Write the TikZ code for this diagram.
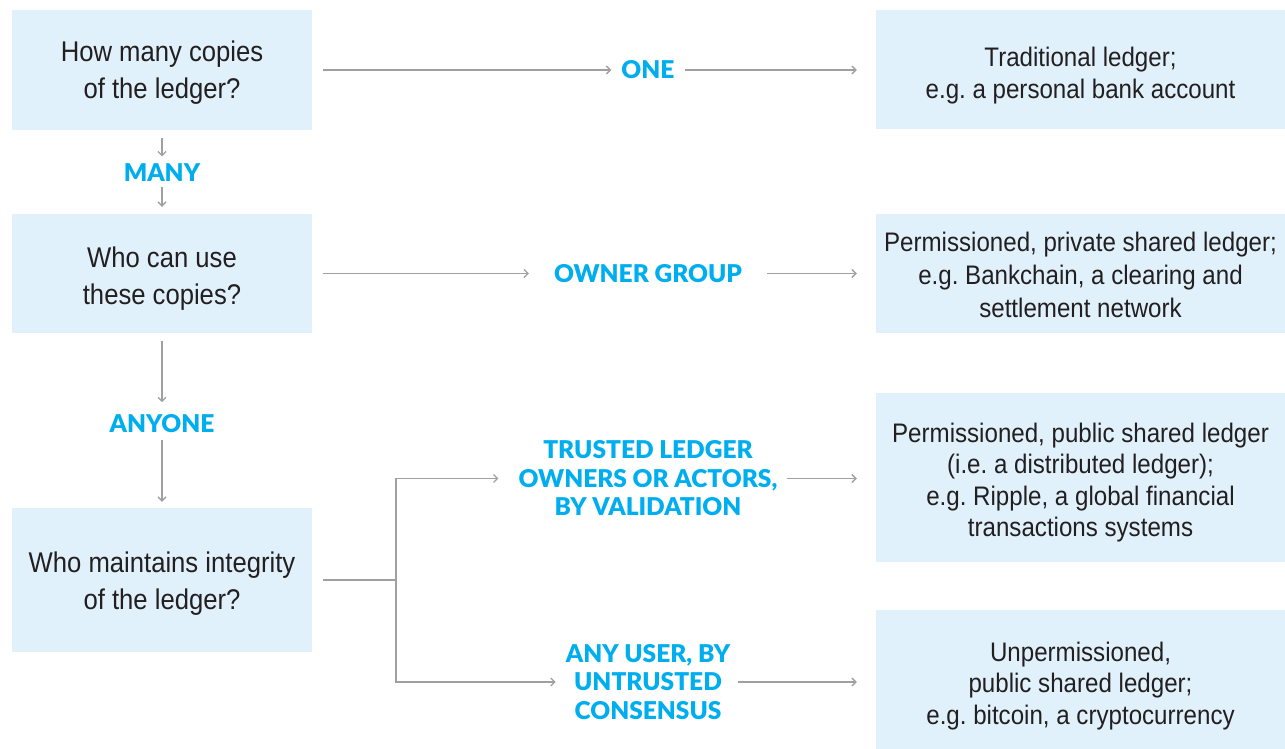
\documentclass[tikz,border=0pt]{standalone}
\usepackage{fontspec}
\setmainfont{Liberation Sans}[FakeStretch=0.9]
\newfontfamily\lblfont{Lato Black}
\usetikzlibrary{arrows.meta}
\definecolor{boxfill}{HTML}{E0F1FB}
\definecolor{lblblue}{HTML}{00AEEF}
\definecolor{txt}{HTML}{231F20}
\definecolor{arrgray}{HTML}{A0A0A0}
\begin{document}
\frenchspacing
\begin{tikzpicture}[x=1pt,y=-1pt,
  box/.style={fill=boxfill, draw=none, inner sep=0pt},
  ltext/.style={text=txt, align=center, inner sep=0pt,
    font=\fontsize{28.5}{37}\selectfont},
  rtext/.style={text=txt, align=center, inner sep=0pt,
    font=\fontsize{26.8}{31.5}\selectfont},
  lbl/.style={text=lblblue, align=center, inner sep=0pt,
    font=\lblfont\fontsize{24.5}{28.5}\selectfont},
  conn/.style={draw=arrgray, line width=1.3pt},
  arr/.style={conn, -{Straight Barb[length=4pt,width=8pt]}}]
\useasboundingbox (0,0) rectangle (1285,749);
% left question boxes
\node[box, minimum width=300pt, minimum height=120pt] (q1) at (162,70) {};
\node[box, minimum width=300pt, minimum height=119pt] (q2) at (162,273.5) {};
\node[box, minimum width=300pt, minimum height=144pt] (q3) at (162,580) {};
\node[ltext] (q1t) at ([yshift=-3pt]q1.center) {How many copies\\of the ledger?};
\node[ltext] (q2t) at ([yshift=-5pt]q2.center) {Who can use\\these copies?};
\node[ltext] (q3t) at ([yshift=-4pt]q3.center) {Who maintains integrity\\of the ledger?};
% right result boxes
\node[box, minimum width=409pt, minimum height=119pt] (r1) at (1080.5,69.5) {};
\node[box, minimum width=409pt, minimum height=119pt] (r2) at (1080.5,273.5) {};
\node[box, minimum width=409pt, minimum height=169pt] (r3) at (1080.5,477.5) {};
\node[box, minimum width=409pt, minimum height=139pt] (r4) at (1080.5,679.5) {};
\node[rtext] (r1t) at ([yshift=-6pt]r1.center) {Traditional ledger;\\e.g. a personal bank account};
\node[rtext, font=\fontsize{26.8}{33}\selectfont] (r2t) at ([yshift=-1pt]r2.center) {Permissioned, private shared ledger;\\e.g. Bankchain, a clearing and\\settlement network};
\node[rtext] (r3t) at ([yshift=-5pt]r3.center) {Permissioned, public shared ledger\\(i.e. a distributed ledger);\\e.g. Ripple, a global financial\\transactions systems};
\node[rtext] (r4t) at ([yshift=-6.5pt]r4.center) {Unpermissioned,\\public shared ledger;\\e.g. bitcoin, a cryptocurrency};
% labels
\node[lbl] (one) at (648,70) {ONE};
\node[lbl] (own) at (648,273.5) {OWNER GROUP};
\node[lbl] (many) at (162,172.5) {MANY};
\node[lbl] (anyone) at (162,423.5) {ANYONE};
\node[lbl] (trusted) at (648,478.5) {TRUSTED LEDGER\\OWNERS OR ACTORS,\\BY VALIDATION};
\node[lbl] (anyuser) at (648,682) {ANY USER, BY\\UNTRUSTED\\CONSENSUS};
% connectors
\draw[arr] ([xshift=11pt]q1.east) -- ([xshift=-10pt]one.west);
\draw[arr] ([xshift=10pt]one.east) -- ([xshift=-19pt]r1.west |- one.east);
\draw[arr] ([xshift=11pt]q2.east) -- ([xshift=-25pt]own.west);
\draw[arr] ([xshift=25pt]own.east) -- ([xshift=-19pt]r2.west |- own.east);
\draw[arr] ([yshift=-8pt]q1.south) -- ([yshift=7pt]many.north);
\draw[arr] ([yshift=-5pt]many.south) -- ([yshift=7pt]q2.north);
\draw[arr] ([yshift=-8pt]q2.south) -- ([yshift=12pt]anyone.north);
\draw[arr] ([yshift=-7pt]anyone.south) -- ([yshift=6pt]q3.north);
\coordinate (j) at (396,580);
\draw[conn] ([xshift=11pt]q3.east) -- (j);
\draw[arr] (j) |- ([xshift=-20pt]trusted.west);
\draw[arr] (j) |- ([xshift=-10pt]anyuser.west);
\draw[arr] ([xshift=9pt]trusted.east) -- ([xshift=-19pt]r3.west |- trusted.east);
\draw[arr] ([xshift=8pt]anyuser.east) -- ([xshift=-19pt]r4.west |- anyuser.east);
\end{tikzpicture}
\end{document}
